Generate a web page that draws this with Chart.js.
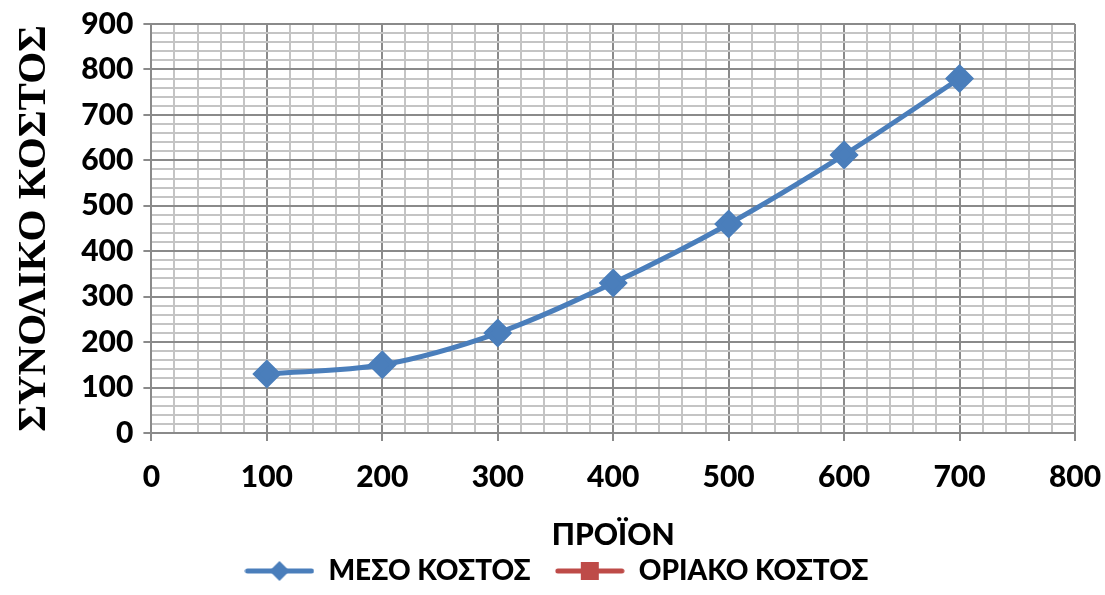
<!DOCTYPE html>
<html>
<head>
<meta charset="utf-8">
<script src="https://cdn.jsdelivr.net/npm/chart.js@4"></script>
<style>
  html, body { margin: 0; padding: 0; background: #fff; }
  #wrap { width: 1105px; height: 595px; }
</style>
</head>
<body>
<div id="wrap"><canvas id="costChart"></canvas></div>
<script>
// data
const output = [100, 200, 300, 400, 500, 600, 700];
const averageCost = [130, 150, 220, 330, 460, 612, 780];
const marginalCost = [];
const seriesNames = ['ΜΕΣΟ ΚΟΣΤΟΣ', 'ΟΡΙΑΚΟ ΚΟΣΤΟΣ'];

const blue = '#4A7EBB';
const red = '#BE4B48';
const tickFont = { family: 'Lato', weight: 900, size: 30 };

// legend swatch: short line with the marker in the middle
const makeSwatch = (color, style) => {
    const c = document.createElement('canvas');
    c.width = 70;
    c.height = 24;
    const ctx = c.getContext('2d');
    ctx.strokeStyle = color;
    ctx.lineWidth = 5;
    ctx.lineCap = 'round';
    ctx.beginPath();
    ctx.moveTo(3, 12);
    ctx.lineTo(67, 12);
    ctx.stroke();
    ctx.fillStyle = color;
    if (style === 'diamond') {
        ctx.beginPath();
        ctx.moveTo(35, 2);
        ctx.lineTo(45, 12);
        ctx.lineTo(35, 22);
        ctx.lineTo(25, 12);
        ctx.closePath();
        ctx.fill();
    } else {
        ctx.fillRect(26, 3, 18, 18);
    }
    return c;
};

const swatches = [makeSwatch(blue, 'diamond'), makeSwatch(red, 'square')];

const gridColor = (ctx) => {
    const v = ctx.tick ? ctx.tick.value : 0;
    return v % 100 === 0 ? '#8a8a8a' : '#c4c4c4';
};

const tickMarkColor = (ctx) => {
    const v = ctx.tick ? ctx.tick.value : 0;
    return v % 100 === 0 ? '#8a8a8a' : 'rgba(0,0,0,0)';
};

const costChart = new Chart(document.getElementById('costChart'), {
    type: 'line',
    data: {
        datasets: [
            {
                label: seriesNames[0],
                data: output.map((x, i) => ({ x: x, y: averageCost[i] })),
                borderColor: blue,
                backgroundColor: blue,
                borderWidth: 5,
                pointStyle: 'rectRot',
                pointRadius: 11,
                pointHoverRadius: 11,
                tension: 0.4,
                cubicInterpolationMode: 'monotone',
            },
            {
                label: seriesNames[1],
                data: marginalCost,
                borderColor: red,
                backgroundColor: red,
                borderWidth: 5,
                pointStyle: 'rect',
                pointRadius: 8,
            },
        ],
    },
    options: {
        responsive: true,
        maintainAspectRatio: false,
        animation: false,
        layout: { padding: { left: 10, right: 2, top: 0, bottom: 0 } },
        plugins: {
            tooltip: { enabled: false },
            legend: {
                position: 'bottom',
                labels: {
                    usePointStyle: true,
                    pointStyleWidth: 70,
                    color: '#000',
                    font: { family: 'Lato', weight: 900, size: 28 },
                    padding: 4,
                    // extra spaces keep the two entries apart as in the original
                    generateLabels: (chart) => chart.data.datasets.map((ds, i) => ({
                        text: i === 0 ? ds.label + '   ' : ds.label,
                        fontColor: '#000',
                        pointStyle: swatches[i],
                        datasetIndex: i,
                        lineWidth: 0,
                    })),
                },
            },
        },
        scales: {
            x: {
                type: 'linear',
                min: 0,
                max: 800,
                afterFit: (scale) => { scale.paddingRight = 30; },
                ticks: {
                    stepSize: 20,
                    autoSkip: false,
                    maxRotation: 0,
                    color: '#000',
                    font: tickFont,
                    padding: 18,
                    callback: (v) => (v % 100 === 0 ? String(v) : ''),
                },
                grid: {
                    color: gridColor,
                    tickColor: tickMarkColor,
                    tickLength: 8,
                    lineWidth: 2,
                },
                border: { color: '#8a8a8a', width: 2 },
                title: {
                    display: true,
                    text: 'ΠΡΟΪΟΝ',
                    color: '#000',
                    font: tickFont,
                    padding: { top: 4, bottom: 0 },
                },
            },
            y: {
                min: 0,
                max: 900,
                afterFit: (scale) => { scale.paddingTop = 24; },
                ticks: {
                    stepSize: 20,
                    autoSkip: false,
                    color: '#000',
                    font: tickFont,
                    padding: 10,
                    callback: (v) => (v % 100 === 0 ? String(v) : ''),
                },
                grid: {
                    color: gridColor,
                    tickColor: tickMarkColor,
                    tickLength: 8,
                    lineWidth: 2,
                },
                border: { color: '#8a8a8a', width: 2 },
                title: {
                    display: true,
                    text: 'ΣΥΝΟΛΙΚΟ ΚΟΣΤΟΣ',
                    color: '#000',
                    font: { family: 'Liberation Serif', weight: 'bold', size: 41 },
                    padding: { top: 0, bottom: 12 },
                },
            },
        },
    },
});
</script>
</body>
</html>
